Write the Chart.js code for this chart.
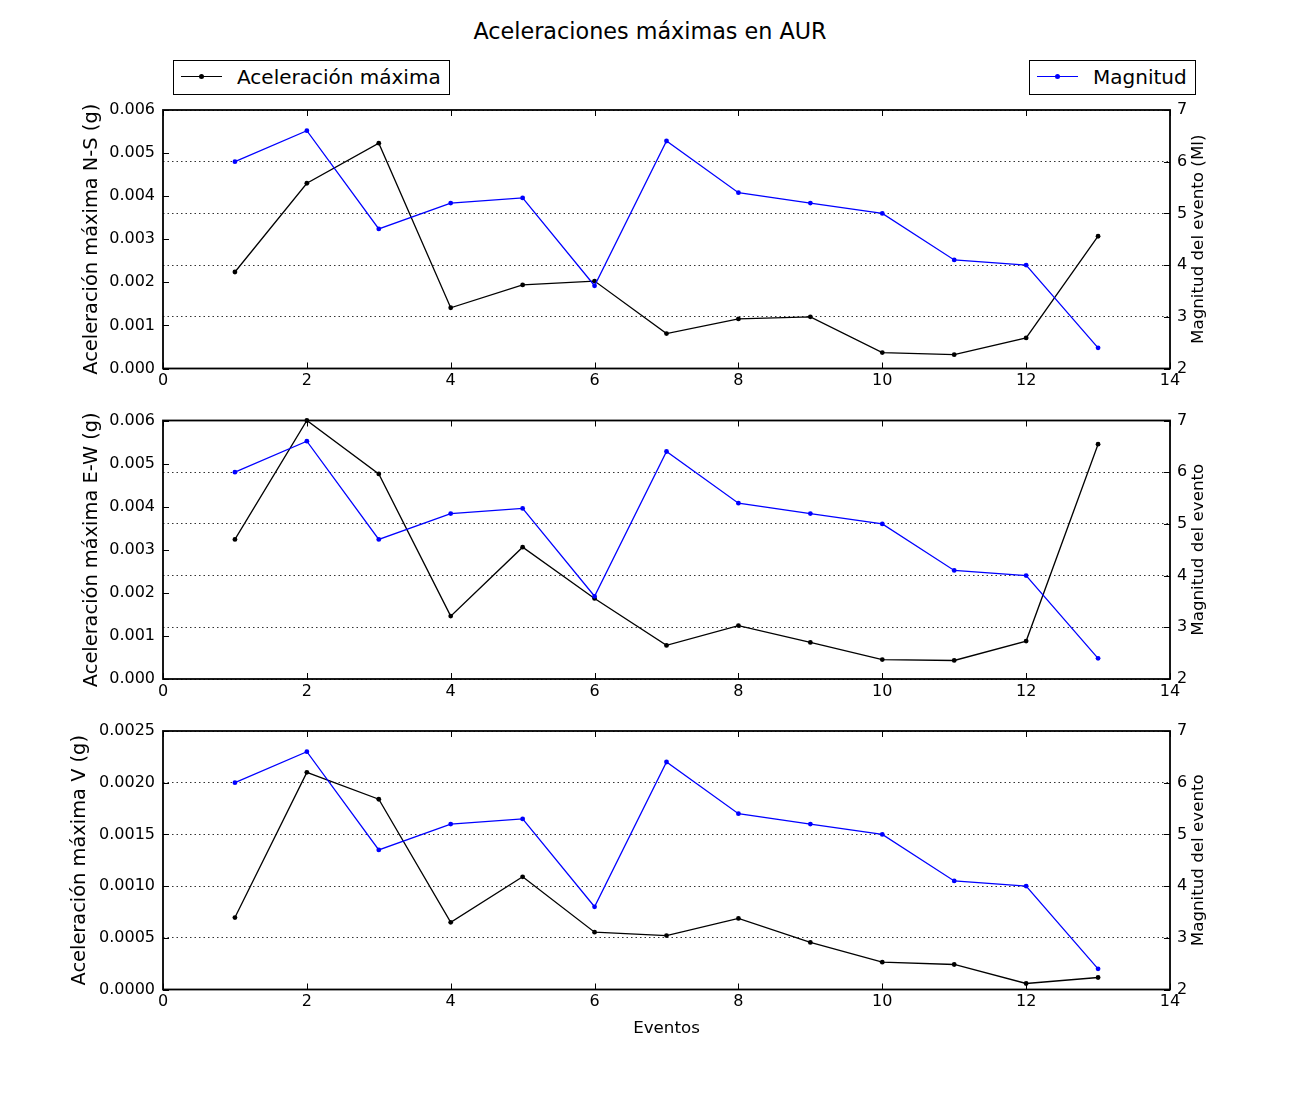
<!DOCTYPE html>
<html>
<head>
<meta charset="utf-8">
<script src="https://cdn.jsdelivr.net/npm/chart.js@4.4.1/dist/chart.umd.min.js"></script>
<style>
  body { margin: 0; background: #fff; font-family: "DejaVu Sans", sans-serif; color: #000; }
  #fig { position: relative; width: 1300px; height: 1100px; }
  .titulo { position: absolute; left: 0; top: 18px; width: 1300px; text-align: center; font-size: 22.3px; line-height: 26px; }
  .panel { position: absolute; left: 0; width: 1300px; }
  .leyenda { position: absolute; top: 60px; height: 35px; box-sizing: border-box; border: 1px solid #000; background: #fff; }
  .leyenda .linea { position: absolute; left: 7px; top: 15px; width: 41px; height: 1.3px; }
  .leyenda .punto { position: absolute; left: 25px; top: 13px; width: 5px; height: 5px; border-radius: 50%; }
  .leyenda .txt { position: absolute; left: 63px; top: 4px; font-size: 20px; line-height: 24px; white-space: nowrap; }
</style>
</head>
<body>
<div id="fig">
  <div class="titulo">Aceleraciones máximas en AUR</div>

  <div class="leyenda" style="left:173px;width:277px">
    <div class="linea" style="background:#000"></div>
    <div class="punto" style="background:#000"></div>
    <div class="txt">Aceleración máxima</div>
  </div>
  <div class="leyenda" style="left:1029px;width:167px">
    <div class="linea" style="background:#0000ff"></div>
    <div class="punto" style="background:#0000ff"></div>
    <div class="txt">Magnitud</div>
  </div>

  <div class="panel" style="top:100px;height:300px"><canvas id="chartNS"></canvas></div>
  <div class="panel" style="top:410px;height:300px"><canvas id="chartEW"></canvas></div>
  <div class="panel" style="top:720px;height:323px"><canvas id="chartV"></canvas></div>
</div>

<script>
// ===== DATOS =====
const eventos = [1, 2, 3, 4, 5, 6, 7, 8, 9, 10, 11, 12, 13];
const magnitud = [6.0, 6.6, 4.7, 5.2, 5.3, 3.6, 6.4, 5.4, 5.2, 5.0, 4.1, 4.0, 2.4];
const acelNS = [0.00224, 0.0043, 0.00523, 0.00141, 0.00194, 0.00203, 0.00081, 0.00115, 0.0012, 0.00037, 0.00032, 0.00071, 0.00307];
const acelEW = [0.00324, 0.0060, 0.00476, 0.00146, 0.00306, 0.00187, 0.00078, 0.00124, 0.00085, 0.00045, 0.00043, 0.00088, 0.00545];
const acelV = [0.000696, 0.0021, 0.00184, 0.00065, 0.00109, 0.000554, 0.000522, 0.000687, 0.000455, 0.000264, 0.000242, 0.000058, 0.000116];

const ticksX = [0, 2, 4, 6, 8, 10, 12, 14];
const ticksNS = [0, 0.001, 0.002, 0.003, 0.004, 0.005, 0.006];
const ticksV = [0, 0.0005, 0.001, 0.0015, 0.002, 0.0025];
const ticksMag = [2, 3, 4, 5, 6, 7];

Chart.defaults.font.family = '"DejaVu Sans", sans-serif';
Chart.defaults.color = '#000';

const AREA_H = 258.5;
const AREA_R = 1170;
const AREA_L = 163;

// marco, ticks hacia dentro y título del eje derecho
const marco = {
  id: 'marco',
  afterDraw(chart, args, opts) {
    const { ctx, chartArea: { left, right, top, bottom }, scales } = chart;
    ctx.save();
    ctx.strokeStyle = '#000';
    ctx.lineWidth = 1;
    ctx.beginPath();
    scales.x.ticks.forEach(t => {
      const px = Math.round(scales.x.getPixelForValue(t.value)) + 0.5;
      ctx.moveTo(px, bottom); ctx.lineTo(px, bottom - 6);
      ctx.moveTo(px, top); ctx.lineTo(px, top + 6);
    });
    scales.y.ticks.forEach(t => {
      const py = Math.round(scales.y.getPixelForValue(t.value)) + 0.5;
      ctx.moveTo(left, py); ctx.lineTo(left + 6, py);
    });
    scales.y1.ticks.forEach(t => {
      const py = Math.round(scales.y1.getPixelForValue(t.value)) + 0.5;
      ctx.moveTo(right, py); ctx.lineTo(right - 6, py);
    });
    ctx.stroke();
    ctx.lineWidth = 1.8;
    ctx.strokeRect(left, top, right - left, bottom - top);

    ctx.translate(opts.tituloX, (top + bottom) / 2);
    ctx.rotate(-Math.PI / 2);
    ctx.fillStyle = '#000';
    ctx.font = '16.7px "DejaVu Sans"';
    ctx.textAlign = 'center';
    ctx.textBaseline = 'middle';
    ctx.fillText(opts.titulo, 0, 0);
    ctx.restore();
  }
};

function sinRelleno(s) {
  s.paddingTop = 0;
  s.paddingBottom = 0;
}

function crearPanel(id, acel, ticksY, dec, tituloY, tituloDer, padTop, padLeft, conEventos) {
  const alto = document.getElementById(id).parentNode.clientHeight;
  const altoX = alto - padTop - AREA_H;
  new Chart(document.getElementById(id), {
    type: 'line',
    data: {
      datasets: [
        {
          label: 'Magnitud',
          data: eventos.map((e, i) => ({ x: e, y: magnitud[i] })),
          yAxisID: 'y1',
          borderColor: '#0000ff',
          backgroundColor: '#0000ff',
          borderWidth: 1.3,
          pointRadius: 2.4,
          pointBorderWidth: 0,
          order: 0,
          clip: false
        },
        {
          label: 'Aceleración máxima',
          data: eventos.map((e, i) => ({ x: e, y: acel[i] })),
          yAxisID: 'y',
          borderColor: '#000',
          backgroundColor: '#000',
          borderWidth: 1.3,
          pointRadius: 2.4,
          pointBorderWidth: 0,
          order: 1,
          clip: false
        }
      ]
    },
    options: {
      responsive: true,
      maintainAspectRatio: false,
      animation: false,
      layout: { padding: { top: padTop, left: padLeft, right: 0, bottom: 0 } },
      plugins: {
        legend: { display: false },
        tooltip: { enabled: false },
        marco: { titulo: tituloDer, tituloX: 1199 }
      },
      scales: {
        x: {
          type: 'linear',
          position: 'bottom',
          min: ticksX[0], max: ticksX[ticksX.length - 1],
          afterBuildTicks: s => { s.ticks = ticksX.map(v => ({ value: v })); },
          ticks: { padding: 3, maxRotation: 0, font: { size: 16 } },
          grid: { display: false, drawTicks: false },
          border: { display: false },
          title: { display: conEventos, text: 'Eventos', font: { size: 16.7 }, padding: { top: 4, bottom: 4 } },
          afterFit: s => { s.height = altoX; }
        },
        y: {
          position: 'left',
          min: ticksY[0], max: ticksY[ticksY.length - 1],
          afterBuildTicks: s => { s.ticks = ticksY.map(v => ({ value: v })); },
          ticks: { padding: 8, font: { size: 16 }, callback: v => v.toFixed(dec) },
          grid: { display: false, drawTicks: false },
          border: { display: false },
          title: { display: true, text: tituloY, font: { size: 19.4 }, padding: { top: 4, bottom: 4 } },
          afterFit: s => { s.width = AREA_L - padLeft; sinRelleno(s); }
        },
        y1: {
          position: 'right',
          min: ticksMag[0], max: ticksMag[ticksMag.length - 1],
          afterBuildTicks: s => { s.ticks = ticksMag.map(v => ({ value: v })); },
          ticks: { padding: 7, font: { size: 16 } },
          grid: { display: true, drawTicks: false, color: '#000', lineWidth: 0.8 },
          border: { display: false, dash: [1.5, 3] },
          afterFit: s => { s.width = 1300 - AREA_R; sinRelleno(s); }
        }
      }
    },
    plugins: [marco]
  });
}

crearPanel('chartNS', acelNS, ticksNS, 3, 'Aceleración máxima N-S (g)', 'Magnitud del evento (Ml)', 10, 76, false);
crearPanel('chartEW', acelEW, ticksNS, 3, 'Aceleración máxima E-W (g)', 'Magnitud del evento', 10.5, 76, false);
crearPanel('chartV', acelV, ticksV, 4, 'Aceleración máxima V (g)', 'Magnitud del evento', 11, 64, true);
</script>
</body>
</html>
